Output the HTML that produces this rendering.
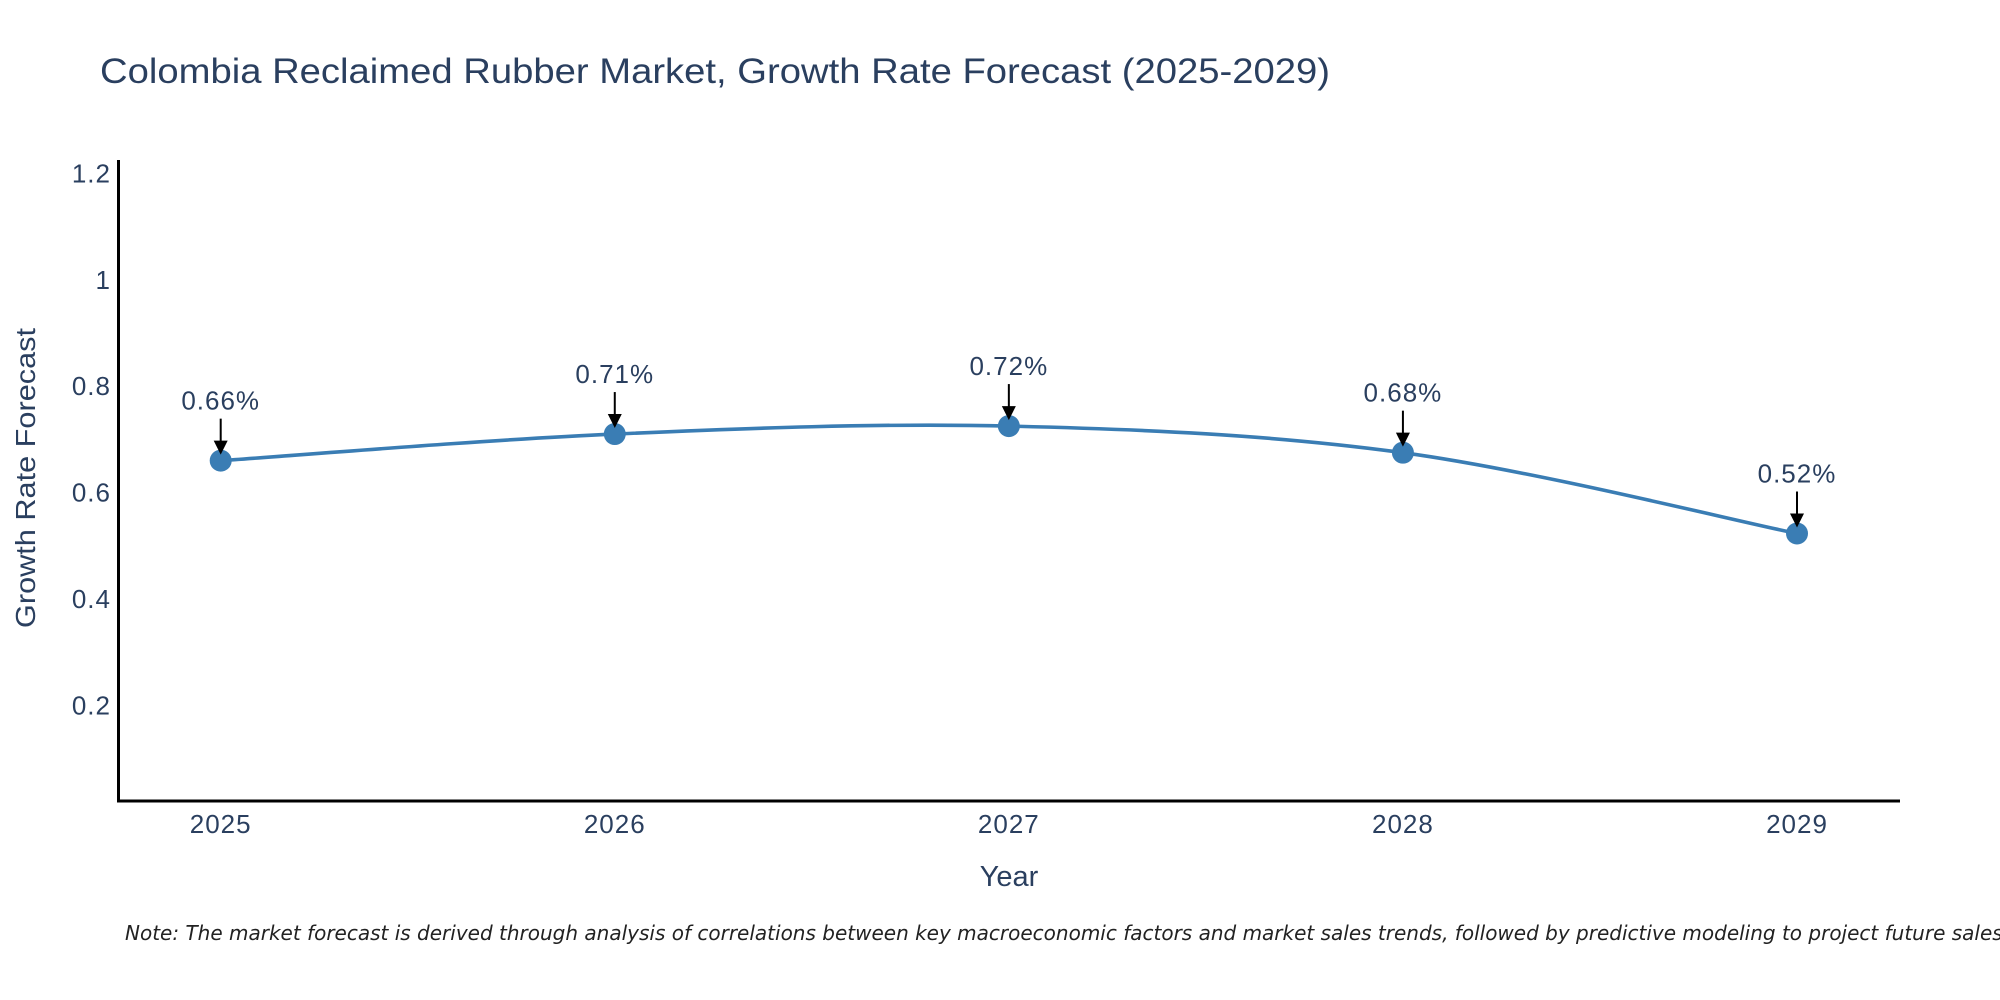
<!DOCTYPE html>
<html><head><meta charset="utf-8">
<style>
html,body{margin:0;padding:0;background:#fff;}
svg{display:block;}
text{font-family:"Liberation Sans",sans-serif;fill:#2a3f5f;}
</style></head>
<body>
<svg id="chart" width="2000" height="1000" viewBox="0 0 2000 1000" xmlns="http://www.w3.org/2000/svg">
  <rect width="2000" height="1000" fill="#fff"/>
  <text x="100" y="83" font-size="35" textLength="1230" lengthAdjust="spacingAndGlyphs">Colombia Reclaimed Rubber Market, Growth Rate Forecast (2025-2029)</text>
  <g id="yticks"></g>
  <g id="xticks"></g>
  <line x1="118.5" y1="160" x2="118.5" y2="802" stroke="#000" stroke-width="3"/>
  <line x1="117" y1="801" x2="1900" y2="801" stroke="#000" stroke-width="3"/>
  <text transform="translate(35,478) rotate(-90)" text-anchor="middle" font-size="28" textLength="300" lengthAdjust="spacingAndGlyphs">Growth Rate Forecast</text>
  <text x="1009" y="886" text-anchor="middle" font-size="29">Year</text>
  <path id="line" fill="none" stroke="#3a7db4" stroke-width="3.6"/>
  <g id="points"></g>
  <g id="annos"></g>
  <text x="125" y="940" font-size="20" font-style="italic" style="font-family:'DejaVu Sans',sans-serif;fill:#222">Note: The market forecast is derived through analysis of correlations between key macroeconomic factors and market sales trends, followed by predictive modeling to project future sales.</text>
</svg>
<script>
const years = [2025, 2026, 2027, 2028, 2029];
const values = [0.66, 0.71, 0.725, 0.675, 0.523];
const valueLabels = ["0.66%", "0.71%", "0.72%", "0.68%", "0.52%"];
const yTickValues = [0.2, 0.4, 0.6, 0.8, 1, 1.2];
const yTickLabels = ["0.2", "0.4", "0.6", "0.8", "1", "1.2"];

const NS = "http://www.w3.org/2000/svg";
function xScale(y){ return 220.7 + (y - 2025) * (1797 - 220.7) / 4; }
function yScale(v){ return 811.7 - v * 531.9; }
function mk(tag, attrs, parent){ const e=document.createElementNS(NS,tag); for(const k in attrs) e.setAttribute(k,attrs[k]); parent.appendChild(e); return e; }

const yt=document.getElementById('yticks');
yTickValues.forEach((v,i)=>{
  const t=mk('text',{x:111,y:yScale(v)+9,'text-anchor':'end','font-size':26,'letter-spacing':'1'},yt);
  
  
  t.textContent=yTickLabels[i];
});
const xt=document.getElementById('xticks');
years.forEach(y=>{
  const t=mk('text',{x:xScale(y),y:833,'text-anchor':'middle','font-size':26,'letter-spacing':'1'},xt);
  
  
  t.textContent=String(y);
});

const pts=years.map((y,i)=>[xScale(y),yScale(values[i])]);
let d=`M${pts[0][0]},${pts[0][1]}`;
for(let i=0;i<pts.length-1;i++){
  const p0=pts[Math.max(0,i-1)],p1=pts[i],p2=pts[i+1],p3=pts[Math.min(pts.length-1,i+2)];
  const c1=[p1[0]+(p2[0]-p0[0])/6,p1[1]+(p2[1]-p0[1])/6];
  const c2=[p2[0]-(p3[0]-p1[0])/6,p2[1]-(p3[1]-p1[1])/6];
  d+=` C${c1[0]},${c1[1]} ${c2[0]},${c2[1]} ${p2[0]},${p2[1]}`;
}
document.getElementById('line').setAttribute('d',d);

const pg=document.getElementById('points'), ag=document.getElementById('annos');
pts.forEach((p,i)=>{
  const c=mk('circle',{cx:p[0],cy:p[1],r:11,fill:'#3a7db4'},pg);
  
  
  const ln=mk('line',{x1:p[0],y1:p[1]-42,x2:p[0],y2:p[1]-18,stroke:'#000','stroke-width':2},ag);
  
  
  const hd=mk('path',{d:`M${p[0]-7},${p[1]-20} L${p[0]+7},${p[1]-20} L${p[0]},${p[1]-6} Z`,fill:'#000'},ag);
  
  
  const t=mk('text',{x:p[0],y:p[1]-51,'text-anchor':'middle','font-size':26,'letter-spacing':'1'},ag);
  
  
  t.textContent=valueLabels[i];
});
</script>
</body></html>
